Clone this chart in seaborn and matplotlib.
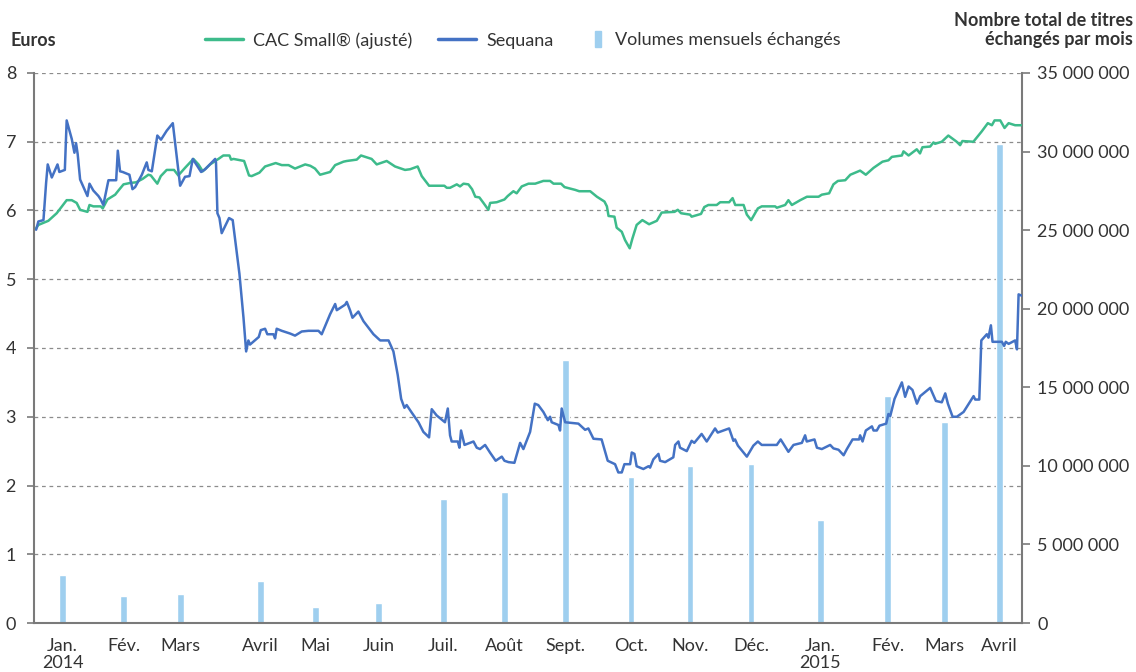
import numpy as np
import pandas as pd
import matplotlib.pyplot as plt
import matplotlib.dates as mdates
import matplotlib.patches as mpatches
import seaborn as sns
from matplotlib.lines import Line2D
from matplotlib.legend_handler import HandlerPatch
from matplotlib.ticker import FuncFormatter, NullFormatter

# Sequana share price (days since 2014-01-01, euros)
seq_day = [1.0, 2.1, 4.6, 5.9, 6.7, 8.7, 11.5, 12.4, 15.1, 16.0, 18.5, 19.8, 20.6, 21.4, 22.6,
           26.2, 27.2, 29.1, 31.6, 32.7, 34.0, 36.5, 40.3, 41.1, 42.2, 43.5, 46.8, 48.3, 49.6,
           52.9, 55.3, 56.1, 57.8, 60.5, 62.3, 65.1, 68.1, 70.0, 71.7, 74.1, 76.3, 77.9, 82.0,
           84.0, 88.9, 89.3, 90.0, 91.0, 92.1, 95.7, 97.5, 100.8, 102.8, 104.1, 105.2, 106.0,
           110.3, 111.3, 113.4, 114.5, 117.5, 118.3, 119.1, 121.6, 125.7, 128.1, 131.4, 134.7,
           139.6, 141.2, 145.3, 147.8, 148.6, 152.7, 153.5, 155.1, 156.3, 159.2, 161.7, 166.6,
           169.9, 174.0, 176.4, 178.5, 180.2, 181.8, 182.9, 185.4, 188.7, 191.1, 193.9, 195.2,
           197.6, 201.7, 203.1, 204.2, 205.0, 208.0, 208.8, 209.6, 211.3, 215.7, 217.3, 218.9,
           221.4, 223.8, 226.6, 229.6, 230.9, 232.9, 235.8, 238.6, 240.2, 243.5, 245.8, 247.5,
           250.0, 252.2, 253.3, 254.1, 257.4, 258.2, 259.0, 260.7, 267.2, 270.5, 272.1, 274.6,
           278.6, 281.6, 285.2, 286.8, 288.5, 289.8, 292.6, 293.4, 294.7, 295.8, 299.1, 301.6,
           302.4, 304.0, 306.5, 307.3, 309.8, 313.8, 314.7, 316.3, 317.1, 320.4, 322.8, 324.1,
           327.7, 330.2, 334.3, 335.6, 341.2, 343.3, 344.1, 345.5, 349.9, 353.1, 355.3, 357.2,
           364.6, 366.5, 370.3, 372.8, 376.9, 378.5, 379.3, 383.1, 384.3, 386.7, 390.8, 392.4,
           394.9, 397.4, 399.0, 401.8, 405.0, 405.5, 406.7, 408.3, 411.3, 412.1, 413.7, 415.0,
           418.3, 419.4, 420.3, 422.4, 426.0, 427.6, 429.3, 431.2, 433.4, 435.0, 439.9, 442.7,
           445.6, 447.3, 448.6, 450.9, 453.0, 456.3, 461.2, 462.0, 464.0, 465.0, 467.7, 468.5,
           469.7, 470.5, 475.1, 476.2, 477.0, 478.4, 481.6, 482.5, 483.3, 484.9]
seq_val = [5.72, 5.84, 5.86, 6.40, 6.67, 6.48, 6.67, 6.56, 6.59, 7.31, 7.04, 6.84, 6.98, 6.82, 6.45,
           6.21, 6.39, 6.29, 6.21, 6.16, 6.08, 6.44, 6.44, 6.87, 6.57, 6.56, 6.52, 6.31, 6.34,
           6.52, 6.70, 6.59, 6.57, 7.09, 7.03, 7.16, 7.27, 6.79, 6.36, 6.49, 6.50, 6.75, 6.56,
           6.60, 6.75, 6.70, 5.96, 5.89, 5.67, 5.89, 5.86, 5.08, 4.44, 3.95, 4.11, 4.05,
           4.16, 4.26, 4.28, 4.20, 4.20, 4.14, 4.28, 4.25, 4.21, 4.18, 4.24, 4.25,
           4.25, 4.20, 4.49, 4.64, 4.55, 4.63, 4.67, 4.55, 4.44, 4.53, 4.39, 4.20,
           4.11, 4.11, 3.95, 3.61, 3.26, 3.13, 3.17, 3.06, 2.92, 2.78, 2.70, 3.11,
           3.02, 2.92, 3.12, 2.73, 2.64, 2.64, 2.55, 2.80, 2.59, 2.64, 2.55, 2.53,
           2.59, 2.48, 2.36, 2.42, 2.36, 2.34, 2.33, 2.62, 2.53, 2.78, 3.19, 3.17,
           3.07, 2.95, 3.00, 2.92, 2.88, 2.80, 3.12, 2.92, 2.90, 2.81, 2.83, 2.68,
           2.67, 2.36, 2.31, 2.19, 2.19, 2.31, 2.31, 2.48, 2.46, 2.28, 2.24, 2.28,
           2.26, 2.38, 2.46, 2.36, 2.34, 2.41, 2.59, 2.64, 2.55, 2.50, 2.65, 2.62,
           2.75, 2.64, 2.83, 2.77, 2.83, 2.65, 2.67, 2.58, 2.42, 2.58, 2.64, 2.59,
           2.59, 2.67, 2.49, 2.59, 2.62, 2.73, 2.64, 2.67, 2.55, 2.53, 2.59, 2.54,
           2.52, 2.44, 2.53, 2.67, 2.67, 2.73, 2.64, 2.80, 2.86, 2.80, 2.80, 2.87,
           2.90, 3.04, 3.01, 3.26, 3.50, 3.29, 3.44, 3.39, 3.19, 3.30, 3.42, 3.23,
           3.21, 3.34, 3.19, 3.00, 3.00, 3.07, 3.30, 3.25, 3.25, 4.11, 4.20, 4.15,
           4.33, 4.09, 4.09, 4.03, 4.09, 4.06, 4.11, 3.98, 4.78, 4.76]

# CAC Small (ajusté)
cac_day = [1.0, 2.1, 7.0, 11.1, 16.0, 18.5, 20.9, 22.6, 26.2, 27.2, 29.1, 32.7, 33.7, 36.0, 39.8,
           41.4, 43.9, 47.1, 50.1, 53.3, 56.1, 57.3, 60.5, 62.2, 65.1, 68.7, 70.8, 74.1, 78.2,
           80.7, 82.8, 86.4, 90.5, 92.9, 95.9, 96.7, 97.9, 103.1, 105.5, 106.8, 110.6, 113.4,
           118.6, 121.6, 124.9, 128.1, 133.1, 135.6, 137.9, 140.4, 145.3, 147.8, 151.9, 153.5,
           158.4, 160.5, 165.7, 168.2, 173.1, 177.2, 182.1, 184.6, 188.3, 190.3, 193.9, 201.4,
           202.6, 204.2, 207.5, 209.1, 210.8, 213.2, 215.0, 216.6, 218.6, 220.6, 223.0, 223.9,
           227.1, 230.9, 232.5, 235.3, 236.9, 239.4, 242.7, 246.0, 250.0, 253.3, 255.0, 258.7,
           260.4, 265.6, 267.6, 273.0, 276.3, 280.0, 281.2, 282.0, 284.9, 286.0, 288.5, 290.1,
           292.4, 293.7, 295.8, 298.6, 301.9, 305.7, 308.1, 314.4, 316.0, 317.6, 322.0, 322.8,
           327.4, 329.0, 331.0, 335.1, 336.8, 341.2, 342.9, 344.2, 348.3, 349.9, 352.0, 355.3,
           357.2, 363.8, 364.6, 368.7, 370.3, 372.0, 376.1, 379.4, 385.1, 386.7, 390.3, 392.4,
           394.6, 398.2, 400.7, 405.5, 408.3, 412.1, 416.5, 419.4, 421.1, 426.0, 426.8, 429.3,
           433.3, 434.9, 436.1, 439.9, 441.5, 442.3, 445.6, 448.8, 452.9, 454.6, 455.7, 461.1,
           465.2, 468.2, 470.2, 471.5, 474.3, 476.4, 478.4, 481.6, 484.6]
cac_val = [5.74, 5.79, 5.85, 5.96, 6.15, 6.15, 6.11, 6.01, 5.98, 6.08, 6.06, 6.06, 6.03, 6.16, 6.23,
           6.29, 6.38, 6.40, 6.41, 6.46, 6.52, 6.51, 6.39, 6.50, 6.59, 6.59, 6.51, 6.62, 6.75,
           6.67, 6.57, 6.67, 6.75, 6.80, 6.80, 6.74, 6.75, 6.72, 6.51, 6.50, 6.55, 6.64,
           6.69, 6.66, 6.66, 6.61, 6.67, 6.65, 6.61, 6.52, 6.56, 6.66, 6.71, 6.72,
           6.74, 6.80, 6.75, 6.67, 6.72, 6.64, 6.59, 6.60, 6.64, 6.50, 6.36, 6.36,
           6.33, 6.33, 6.38, 6.35, 6.39, 6.38, 6.31, 6.20, 6.19, 6.11, 6.01, 6.11,
           6.12, 6.16, 6.21, 6.28, 6.25, 6.35, 6.39, 6.39, 6.43, 6.43, 6.39, 6.39,
           6.34, 6.30, 6.28, 6.28, 6.20, 6.13, 6.06, 5.92, 5.91, 5.75, 5.69, 5.57,
           5.45, 5.59, 5.79, 5.86, 5.80, 5.85, 5.97, 5.98, 6.01, 5.96, 5.94, 5.91,
           5.95, 6.05, 6.08, 6.08, 6.12, 6.12, 6.18, 6.08, 6.08, 5.94, 5.86, 6.03,
           6.06, 6.06, 6.04, 6.08, 6.15, 6.08, 6.15, 6.20, 6.20, 6.23, 6.25, 6.38,
           6.43, 6.44, 6.52, 6.58, 6.52, 6.62, 6.71, 6.73, 6.78, 6.80, 6.86, 6.80,
           6.89, 6.83, 6.92, 6.93, 6.99, 6.97, 7.00, 7.09, 7.00, 6.95, 7.01, 7.00,
           7.15, 7.27, 7.24, 7.31, 7.31, 7.20, 7.27, 7.24, 7.24]

# monthly traded volumes
vol_dates = ["2014-01-15", "2014-02-14", "2014-03-14", "2014-04-22", "2014-05-19", "2014-06-19",
             "2014-07-21", "2014-08-20", "2014-09-19", "2014-10-21", "2014-11-19", "2014-12-19",
             "2015-01-22", "2015-02-24", "2015-03-24", "2015-04-20"]
volumes = [3050000, 1720000, 1850000, 2670000, 1020000, 1270000, 7890000, 8340000, 16740000,
           9290000, 9990000, 10120000, 6560000, 14450000, 12790000, 30490000]
month_labels = ["Jan.\n2014", "Fév.", "Mars", "Avril", "Mai", "Juin", "Juil.", "Août", "Sept.",
                "Oct.", "Nov.", "Déc.", "Jan.\n2015", "Fév.", "Mars", "Avril"]

GREEN = "#3dbb8b"
BLUE = "#4472c4"
BAR = "#9fcfef"
AXC = "#7a7a7a"
TXT = "#333333"
FS = 13

sns.set_theme(style="white")
plt.rcParams['font.family'] = ['Lato', 'DejaVu Sans']

start = pd.Timestamp("2014-01-01")
seq_dates = start + pd.to_timedelta(seq_day, unit="D")
cac_dates = start + pd.to_timedelta(cac_day, unit="D")
bar_dates = pd.to_datetime(vol_dates)

fig = plt.figure(figsize=(11.36, 6.72), dpi=100)
ax = fig.add_axes([0.030, 0.0729, 0.8697, 0.8185])
ax2 = ax.twinx()
ax.set_zorder(ax2.get_zorder() + 1)
ax.patch.set_visible(False)

# grid (euro levels) and bars on the right axis
for lvl in range(1, 9):
    ax2.axhline(lvl * 35e6 / 8, color="#8c8c8c", lw=0.9, ls=(0, (3, 3)), zorder=1)
ax2.bar(bar_dates, volumes, width=3.3, color=BAR, zorder=2)

sns.lineplot(x=cac_dates, y=cac_val, ax=ax, color=GREEN, lw=1.8)
sns.lineplot(x=seq_dates, y=seq_val, ax=ax, color=BLUE, lw=1.8)

ax.set_xlim(pd.Timestamp("2014-01-01"), pd.Timestamp("2015-05-01"))
ax.set_ylim(0, 8)
ax2.set_ylim(0, 35e6)
ax.set_yticks(range(0, 9))
ax2.set_yticks(np.arange(0, 35e6 + 1, 5e6))
ax2.yaxis.set_major_formatter(FuncFormatter(lambda v, p: f"{int(v):,}".replace(",", " ")))

ax.xaxis.set_major_locator(mdates.MonthLocator())
ax.xaxis.set_major_formatter(NullFormatter())
ax.set_xticks(bar_dates, minor=True)
ax.set_xticklabels(month_labels, minor=True)

ax.tick_params(axis="x", which="major", length=6, width=1.2, color=AXC, direction="out")
ax.tick_params(axis="x", which="minor", length=0, pad=11, labelsize=FS, labelcolor=TXT)
ax.tick_params(axis="y", length=5, width=1.2, color=AXC, labelsize=FS, labelcolor=TXT, pad=8)
ax2.tick_params(axis="y", length=6, width=1.2, color=AXC, labelsize=FS, labelcolor=TXT, pad=5)
for lab in ax.get_xticklabels(minor=True):
    lab.set_linespacing(1.05)

for a in (ax, ax2):
    for s in a.spines.values():
        s.set_visible(False)
ax.spines["left"].set_visible(True)
ax.spines["bottom"].set_visible(True)
ax2.spines["right"].set_visible(True)
for s in (ax.spines["left"], ax.spines["bottom"], ax2.spines["right"]):
    s.set_color(AXC)
    s.set_linewidth(1.5)
ax.set_xlabel("")
ax.set_ylabel("")


# narrow bar symbol for the volumes entry
def bar_handle(legend, orig_handle, xdescent, ydescent, width, height, fontsize):
    return mpatches.Rectangle((-xdescent, -ydescent - 1.5), width, height + 3)


line_handles = [Line2D([], [], color=GREEN, lw=2.5), Line2D([], [], color=BLUE, lw=2.5)]
fig.legend(line_handles, ["CAC Small® (ajusté)", "Sequana"],
           loc="center left", bbox_to_anchor=(205 / 1136, 0.940), ncol=2, frameon=False,
           borderpad=0, borderaxespad=0, fontsize=FS, labelcolor=TXT,
           handlelength=2.1, columnspacing=1.45, handletextpad=0.55)
fig.legend([mpatches.Patch(color=BAR)], ["Volumes mensuels échangés"],
           loc="center left", bbox_to_anchor=(595 / 1136, 0.940), frameon=False,
           borderpad=0, borderaxespad=0, fontsize=FS, labelcolor=TXT,
           handlelength=0.35, handletextpad=0.75,
           handler_map={mpatches.Patch: HandlerPatch(patch_func=bar_handle)})

fig.text(10 / 1136, 0.940, "Euros", ha="left", va="center", fontsize=FS, weight="bold", color=TXT)
fig.text(1133 / 1136, 1 - 30 / 672, "Nombre total de titres\néchangés par mois", ha="right",
         va="center", fontsize=FS, weight="bold", color=TXT, linespacing=1.2)

fig.savefig("out.png", dpi=100)
